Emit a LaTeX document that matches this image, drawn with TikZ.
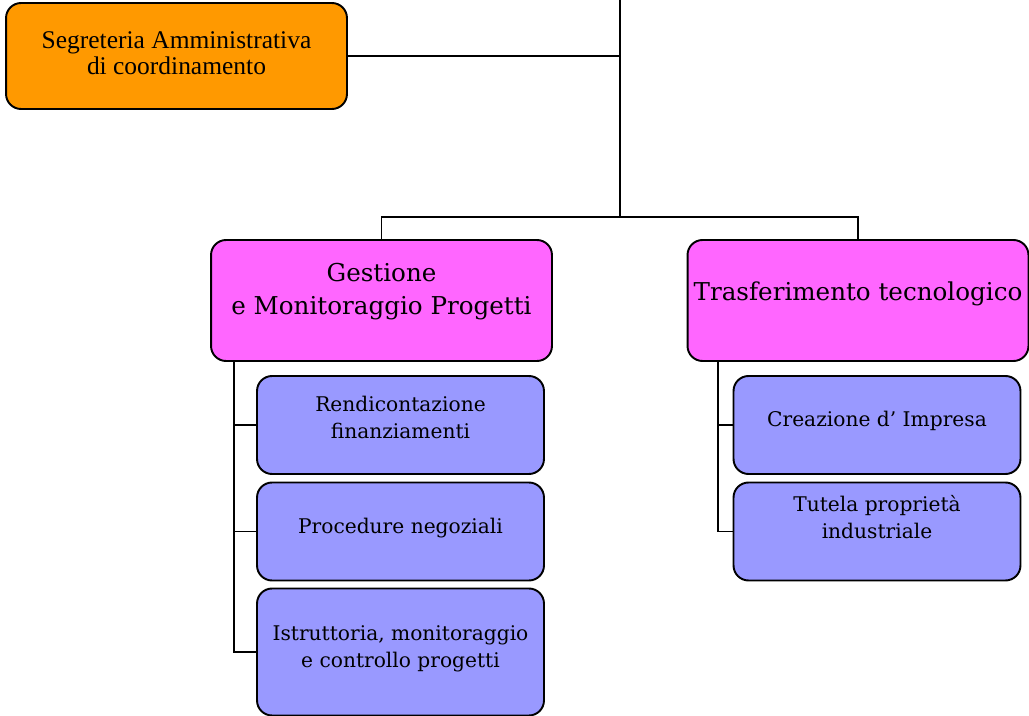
\documentclass[tikz,border=0pt]{standalone}
\usepackage{fontspec}
\setmainfont{DejaVu Serif}
\newfontfamily\segrfont{Liberation Serif}
\usepackage{tikz}
\usetikzlibrary{positioning}

\definecolor{segrorange}{HTML}{FF9900}
\definecolor{areapink}{HTML}{FF66FF}
\definecolor{unitblue}{HTML}{9999FF}

\tikzset{
	box/.style={draw=black, line width=1.1pt, rounded corners=0.3cm, align=center, inner sep=0pt},
	areabox/.style={box, fill=areapink, minimum width=6.82cm, minimum height=2.42cm, font=\fontsize{14}{18.7}\selectfont},
	unitbox/.style={box, fill=unitblue, minimum width=5.74cm, minimum height=1.96cm, font=\fontsize{11.5}{15.3}\selectfont},
	link/.style={draw=black, line width=1.1pt}
}

\begin{document}
\begin{tikzpicture}[x=0.02cm, y=-0.02cm]
			
			\useasboundingbox (0,0) rectangle (1029,716);
			
			\node[box, fill=segrorange, minimum width=6.82cm, minimum height=2.12cm, text depth=3pt, font=\segrfont\fontsize{14.5}{14.7}\selectfont] (segr) at (176.5,56) {Segreteria Amministrativa\\di coordinamento};
			
			\node[areabox, text depth=13.5pt] (gest) at (381.5,300.5) {Gestione\\e Monitoraggio Progetti};
			\node[areabox, text depth=11.2pt] (trasf) at (858,300.5) {Trasferimento tecnologico};
			
			\node[unitbox, text depth=9pt] (rend) at (400.5,425) {Rendicontazione\\finanziamenti};
			\node[unitbox, text depth=6.1pt] (proc) at (400.5,531.5) {Procedure negoziali};
			\node[unitbox, text depth=6.1pt, minimum height=2.54cm] (istr) at (400.5,652) {Istruttoria, monitoraggio\\e controllo progetti};
			
			\node[unitbox, text depth=7.2pt] (crea) at (877,425) {Creazione d' Impresa};
			\node[unitbox, text depth=17pt] (tutela) at (877,531.5) {Tutela propriet\`a\\industriale};
			
			\coordinate (top) at (620,0);
			\coordinate (split) at (620,217);
			\coordinate (lspine) at (234,361);
			\coordinate (rspine) at (718,361);
			
			\draw[link] (top) -- (split);
			\draw[link] (segr.east) -- (segr.east -| top);
			\draw[link] (gest.north) |- (split) -| (trasf.north);
			
			\draw[link] (lspine) |- (istr.west);
			\draw[link] (lspine |- rend.west) -- (rend.west);
			\draw[link] (lspine |- proc.west) -- (proc.west);
			
			\draw[link] (rspine) |- (tutela.west);
			\draw[link] (rspine |- crea.west) -- (crea.west);
			
		\end{tikzpicture}
\end{document}
